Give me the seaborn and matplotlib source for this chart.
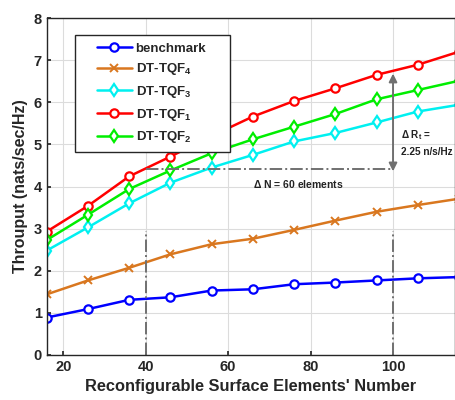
import numpy as np
import pandas as pd
import matplotlib
matplotlib.use("Agg")
import matplotlib.pyplot as plt
from matplotlib.lines import Line2D
from matplotlib.legend_handler import HandlerLine2D
from matplotlib.patches import Rectangle
import seaborn as sns

elements = [16, 26, 36, 46, 56, 66, 76, 86, 96, 106, 116]
benchmark = [0.89, 1.09, 1.31, 1.37, 1.53, 1.56, 1.68, 1.72, 1.77, 1.82, 1.85]
tqf4 = [1.44, 1.77, 2.07, 2.39, 2.63, 2.76, 2.97, 3.19, 3.40, 3.56, 3.71]
tqf3 = [2.48, 3.03, 3.60, 4.09, 4.45, 4.75, 5.07, 5.27, 5.52, 5.78, 5.94]
tqf1 = [2.93, 3.54, 4.24, 4.71, 5.20, 5.66, 6.03, 6.33, 6.65, 6.89, 7.20]
tqf2 = [2.73, 3.33, 3.94, 4.38, 4.79, 5.12, 5.42, 5.72, 6.07, 6.29, 6.51]

labels = ["benchmark", r"DT-TQF$_\mathbf{4}$", r"DT-TQF$_\mathbf{3}$",
          r"DT-TQF$_\mathbf{1}$", r"DT-TQF$_\mathbf{2}$"]
series = [benchmark, tqf4, tqf3, tqf1, tqf2]
colors = ["#0000FF", "#D9771F", "#00F0F0", "#FF0000", "#00EE00"]
markers = ["o", "x", "d", "o", "d"]

sns.set_theme(style="whitegrid")
plt.rcParams["font.family"] = ["Liberation Sans", "DejaVu Sans"]
plt.rcParams["font.weight"] = "bold"
plt.rcParams["mathtext.fontset"] = "custom"
plt.rcParams["mathtext.rm"] = "Liberation Sans:bold"
plt.rcParams["mathtext.bf"] = "Liberation Sans:bold"
plt.rcParams["mathtext.it"] = "Liberation Sans:bold"

fig = plt.figure(figsize=(4.56, 4.0), dpi=100)
ax = fig.add_axes([0.1025, 0.1125, 0.895, 0.8425])

for vals, lab, col, mk in zip(series, labels, colors, markers):
    df = pd.DataFrame({"x": elements, "y": vals})
    if mk == "x":
        sns.lineplot(data=df, x="x", y="y", ax=ax, color=col, marker="x",
                     markersize=5.5, markeredgewidth=1.4, markeredgecolor=col,
                     linewidth=1.8, label=lab)
    else:
        sns.lineplot(data=df, x="x", y="y", ax=ax, color=col, marker=mk,
                     markersize=6 if mk == "o" else 6.2, markerfacecolor="white",
                     markeredgecolor=col, markeredgewidth=1.6, linewidth=1.8, label=lab)

ax.set_xlim(16, 115)
ax.set_ylim(0, 8)
ax.set_xticks([20, 40, 60, 80, 100])
ax.set_yticks(range(0, 9))
ax.grid(True, color="#DCDCDC", linewidth=0.8)
for s in ax.spines.values():
    s.set_color("#262626")
    s.set_linewidth(1.0)
ax.tick_params(axis="both", labelsize=10.5, colors="#262626", length=3,
               direction="in", left=True, bottom=True)
for t in ax.get_xticklabels() + ax.get_yticklabels():
    t.set_fontweight("bold")
ax.set_xlabel("Reconfigurable Surface Elements' Number", fontsize=11.8,
              fontweight="bold", color="#262626", labelpad=4)
ax.set_ylabel("Throuput (nats/sec/Hz)", fontsize=11.5, fontweight="bold",
              color="#262626", labelpad=4)

# annotations
gray = "#707070"
ax.plot([40, 40], [0, 2.95], color=gray, linestyle="-.", linewidth=1.4)
ax.plot([100, 100], [0, 2.95], color=gray, linestyle="-.", linewidth=1.4)
ax.plot([40, 100], [4.42, 4.42], color=gray, linestyle="-.", linewidth=1.4)
ax.annotate("", xy=(100, 6.68), xytext=(100, 4.36),
            arrowprops=dict(arrowstyle="<|-|>", color=gray, lw=1.4,
                            mutation_scale=12, shrinkA=0, shrinkB=0))
ax.text(102, 5.23, r"$\Delta$ R$_t$ =", fontsize=7.2, color="#222222", va="center")
ax.text(102, 4.83, "2.25 n/s/Hz", fontsize=7.2, color="#222222", va="center")
ax.text(66, 4.06, r"$\Delta$ N = 60 elements", fontsize=7.5, color="#222222", va="center")

# legend with MATLAB-like frame
frame = Rectangle((75 / 456, 1 - 152 / 400), 155 / 456, 117 / 400,
                  transform=fig.transFigure, facecolor="white",
                  edgecolor="#262626", linewidth=1.0, zorder=4.5)
ax.add_patch(frame)
leg = ax.legend(loc="upper left", bbox_to_anchor=(90 / 456, 1 - 36 / 400),
                bbox_transform=fig.transFigure, fontsize=9.5,
                handlelength=2.65, frameon=False, borderpad=0.0,
                labelspacing=0.5, handletextpad=0.3,
                handler_map={Line2D: HandlerLine2D(numpoints=1)})
leg.set_zorder(5)
for t in leg.get_texts():
    t.set_fontweight("bold")
    t.set_color("#262626")

fig.savefig("out.png", dpi=100)
